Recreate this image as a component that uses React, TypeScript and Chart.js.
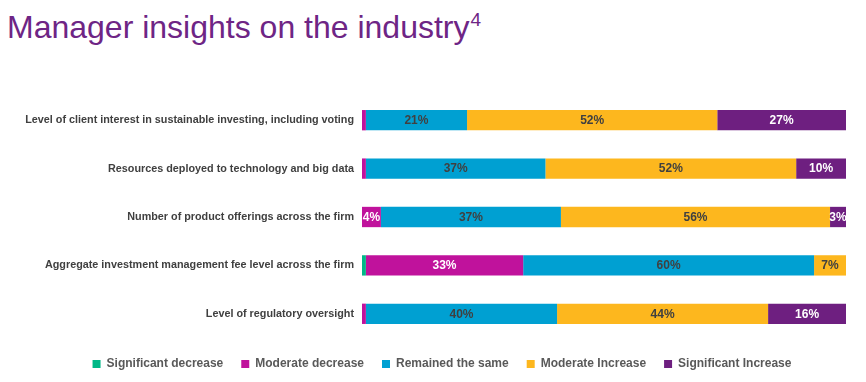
import React, { useEffect, useRef } from "react";
import { Chart, registerables } from "chart.js";

Chart.register(...registerables);

const categories = [
  "Level of client interest in sustainable investing, including voting",
  "Resources deployed to technology and big data",
  "Number of product offerings across the firm",
  "Aggregate investment management fee level across the firm",
  "Level of regulatory oversight",
];

const seriesNames = [
  "Significant decrease",
  "Moderate decrease",
  "Remained the same",
  "Moderate Increase",
  "Significant Increase",
];

const significantDecrease = [0, 0, 0, 0.8, 0];
const moderateDecrease = [0.8, 0.8, 3.9, 32.5, 0.8];
const remainedSame = [20.9, 37.1, 37.2, 60.1, 39.5];
const moderateIncrease = [51.7, 51.8, 55.6, 6.6, 43.6];
const significantIncrease = [26.6, 10.3, 3.3, 0, 16.1];

const seriesColors = ["#00B887", "#C0129C", "#00A0D2", "#FDB71E", "#6E1F80"];
const labelColors = ["#FFFFFF", "#FFFFFF", "#404040", "#404040", "#FFFFFF"];

const labelPlugin = {
  id: "segLabels",
  afterDatasetsDraw(chart: any) {
    const ctx = chart.ctx;
    ctx.save();
    ctx.font = "bold 12px 'Liberation Sans', Arial, sans-serif";
    ctx.textAlign = "center";
    ctx.textBaseline = "middle";
    chart.data.datasets.forEach((ds: any, di: number) => {
      const meta = chart.getDatasetMeta(di);
      meta.data.forEach((el: any, i: number) => {
        const v = ds.data[i];
        if (v < 2) return;
        ctx.fillStyle = labelColors[di];
        ctx.fillText(Math.round(v) + "%", (el.x + el.base) / 2, el.y + 0.5);
      });
    });
    ctx.restore();
  },
};

const legendShiftPlugin = {
  id: "legendShift",
  afterLayout(chart: any) {
    const lg = chart.legend;
    if (!lg) return;
    lg.left += 38;
    lg.right -= 0;
    lg.width = lg.right - lg.left;
    lg.top += 2;
    lg.bottom += 2;
  },
};

export default function App() {
  const ref = useRef<HTMLCanvasElement>(null);
  useEffect(() => {
    const data = [significantDecrease, moderateDecrease, remainedSame, moderateIncrease, significantIncrease];
    const chart = new Chart(ref.current!, {
      type: "bar",
      data: {
        labels: categories,
        datasets: seriesNames.map((name, i) => ({
          label: name,
          data: data[i],
          backgroundColor: seriesColors[i],
          borderWidth: 0,
          barPercentage: 0.42,
          categoryPercentage: 1,
        })),
      },
      options: {
        indexAxis: "y",
        responsive: false,
        animation: false,
        layout: { padding: { top: 96, right: 20, left: 0, bottom: 4 } },
        scales: {
          x: { stacked: true, display: false, min: 0, max: 100 },
          y: {
            stacked: true,
            grid: { display: false, drawTicks: false },
            border: { display: false },
            ticks: {
              color: "#404040",
              padding: 8,
              font: { family: "'Liberation Sans', Arial, sans-serif", size: 10.8, weight: "bold" },
            },
            afterFit: (scale: any) => {
              scale.width = 362;
            },
          },
        },
        plugins: {
          tooltip: { enabled: false },
          legend: {
            position: "bottom",
            labels: {
              boxWidth: 8,
              boxHeight: 8,
              padding: 18,
              color: "#595959",
              font: { family: "'Liberation Sans', Arial, sans-serif", size: 12, weight: "bold" },
            },
          },
        },
      },
      plugins: [labelPlugin, legendShiftPlugin],
    });
    return () => chart.destroy();
  }, []);

  return (
    <div style={{ position: "absolute", left: 0, top: 0, width: 866, height: 382, background: "#fff" }}>
      <div
        style={{
          position: "absolute",
          left: 7,
          top: 11,
          fontFamily: "'Liberation Sans', Arial, sans-serif",
          fontSize: 32,
          lineHeight: "32px",
          color: "#6E2585",
          whiteSpace: "nowrap",
        }}
      >
        Manager insights on the industry
        <span style={{ fontSize: 19, position: "relative", top: -12, marginLeft: 1 }}>4</span>
      </div>
      <canvas ref={ref} width={866} height={382} style={{ position: "absolute", left: 0, top: 0 }} />
    </div>
  );
}
